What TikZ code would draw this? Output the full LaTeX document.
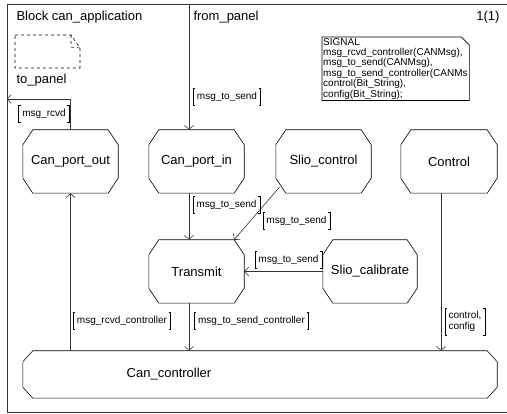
\documentclass[tikz,border=0pt]{standalone}
\usepackage{fontspec}
\setmainfont{Liberation Sans}
\usetikzlibrary{arrows.meta}

\begin{document}
\begin{tikzpicture}[
    x=1pt,y=-1pt,
    octa/.style 2 args={append after command={\pgfextra{
        \draw[line width=0.6pt]
          ([xshift=#1]\tikzlastnode.north west) -- ([xshift=-#1]\tikzlastnode.north east)
          -- ([yshift=-#2]\tikzlastnode.north east) -- ([yshift=#2]\tikzlastnode.south east)
          -- ([xshift=-#1]\tikzlastnode.south east) -- ([xshift=#1]\tikzlastnode.south west)
          -- ([yshift=#2]\tikzlastnode.south west) -- ([yshift=-#2]\tikzlastnode.north west)
          -- cycle;}}},
    box/.style={minimum width=95pt, minimum height=63pt, inner sep=0pt,
      font=\fontsize{13}{15}\selectfont},
    proc/.style={box, octa={10pt}{15pt}},
    conn/.style={-{Straight Barb[length=4pt,width=9pt]}, line width=0.6pt, black!80},
    sig/.style={font=\fontsize{10}{11}\selectfont, inner xsep=3.5pt, inner ysep=0pt,
      minimum height=17pt, append after command={\pgfextra{
        \draw[line width=0.5pt] ([xshift=2pt]\tikzlastnode.north west) -- (\tikzlastnode.north west)
          -- (\tikzlastnode.south west) -- ([xshift=2pt]\tikzlastnode.south west);
        \draw[line width=0.5pt] ([xshift=-2pt]\tikzlastnode.north east) -- (\tikzlastnode.north east)
          -- (\tikzlastnode.south east) -- ([xshift=-2pt]\tikzlastnode.south east);}}},
    big/.style={font=\fontsize{13}{15}\selectfont}
    ]
    \useasboundingbox (0,0) rectangle (507,414);
    % frame and heading
    \draw[line width=0.6pt, black!80] (512,4) -- (7,4) -- (7,412) -- (512,412);
    \node[big, anchor=west] (title) at (13,17) {Block can\_application};
    \node[big, anchor=east] (page) at (503,17) {1(1)};
    % signal declaration
    \node[anchor=north west, minimum width=147pt, minimum height=60pt,
      text width=145pt, inner sep=1pt, align=left,
      font=\fontsize{10}{10.4}\selectfont,
      append after command={\pgfextra{
        \draw[line width=0.6pt] (\tikzlastnode.north west) -- ([xshift=-8pt]\tikzlastnode.north east)
          -- ([yshift=-8pt]\tikzlastnode.north east) -- (\tikzlastnode.south east)
          -- (\tikzlastnode.south west) -- cycle;}}] (decl) at (322,37)
      {SIGNAL\\msg\_rcvd\_controller(CANMsg),\\msg\_to\_send(CANMsg),\\msg\_to\_send\_controller(CANMs\\control(Bit\_String),\\config(Bit\_String);};
    % environment symbol
    \draw[dashed, line width=0.6pt] (15,35) -- (71,35) -- (80,48) -- (80,68) -- (15,68) -- cycle;
    \draw[dashed, line width=0.6pt] (71,35) -- (71,47) -- (80,48);
    \node[big, anchor=west] (tolab) at (13,80) {to\_panel};
    \node[big, anchor=west] (fromlab) at (190,17) {from\_panel};

    % processes
    \node[proc] (cpo) at (70.5,161.5) {Can\_port\_out};
    \node[proc] (cpi) at (196.5,161.5) {Can\_port\_in};
    \node[proc] (sc) at (323.5,161.5) {Slio\_control};
    \node[proc, minimum width=96pt] (ctl) at (449,161.5) {Control};
    \node[proc] (tr) at (196.5,271.5) {Transmit};
    \node[proc, minimum width=94pt] (scal) at (370,271.5) {Slio\_calibrate};
    \node[box, minimum width=474pt, minimum height=47pt, octa={10pt}{11pt}] (cc) at (260,374.5) {};
    \node[big] (cctext) at (169,374.5) {Can\_controller};

    % channels
    \coordinate (fp) at (189,4);
    \coordinate (tp) at (7,99);
    \draw[conn] (fp) -- (fp |- cpi.north);
    \draw[conn] (cpo.north) |- (tp);
    \draw[conn] (fp |- cpi.south) -- (fp |- tr.north);
    \draw[conn] ([xshift=-44pt,yshift=6pt]sc.south) -- ([xshift=37.5pt]tr.north);
    \draw[conn] (scal.west) -- (tr.east);
    \draw[conn] (cc.north -| cpo) -- (cpo.south);
    \draw[conn] (fp |- tr.south) -- (fp |- cc.north);
    \draw[conn] ([xshift=-8pt]ctl.south) -- ([xshift=-8pt]ctl.south |- cc.north);

    % signal lists
    \node[sig] (l1) at (44,114) {msg\_rcvd};
    \node[sig] (l2) at (227,96.5) {msg\_to\_send};
    \node[sig] (l3) at (226.5,205) {msg\_to\_send};
    \node[sig] (l4) at (296.5,221) {msg\_to\_send};
    \node[sig] (l5) at (288.5,260) {msg\_to\_send};
    \node[sig] (l6) at (122,321) {msg\_rcvd\_controller};
    \node[sig] (l7) at (251.5,321) {msg\_to\_send\_controller};
    \node[sig, minimum height=27pt, align=left] (l8) at (465,321.5) {control,\\config};
\end{tikzpicture}
\end{document}
